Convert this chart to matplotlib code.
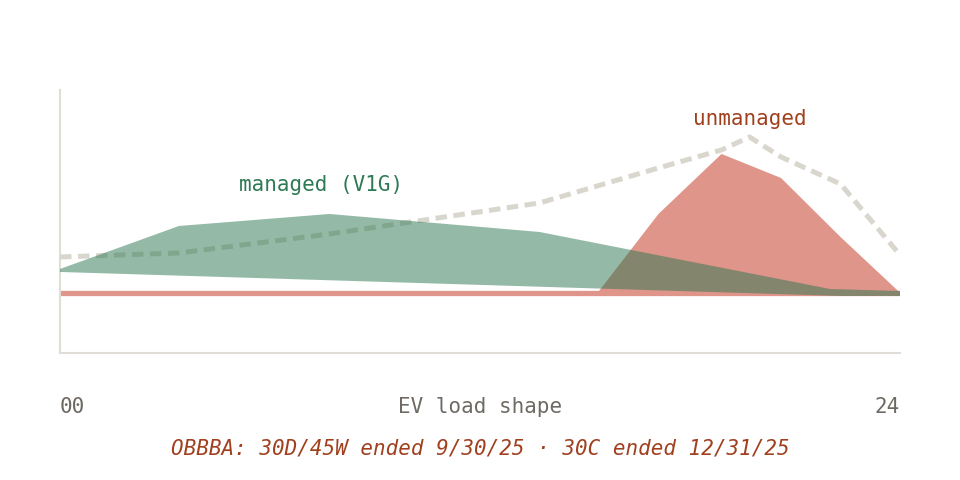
import matplotlib
matplotlib.use("Agg")
import matplotlib.pyplot as plt

# hours (0-24) and relative load, baseline = 0
baseline_hours = [0, 24]
baseline_vals = [0, 0]

managed_top_hours = [0, 3.4, 7.7, 13.7, 22.0, 24]
managed_top_vals = [0.24, 0.67, 0.79, 0.61, 0.04, 0.02]
managed_bot_hours = [24, 22.3, 0]
managed_bot_vals = [-0.03, -0.03, 0.21]

unmanaged_hours = [15.4, 17.1, 18.9, 20.6, 22.3, 24.1]
unmanaged_vals = [0.02, 0.79, 1.39, 1.15, 0.56, -0.03]

grid_hours = [0, 3.4, 7.7, 13.7, 17.1, 18.9, 19.7, 20.6, 22.3, 24]
grid_vals = [0.36, 0.40, 0.59, 0.90, 1.25, 1.43, 1.56, 1.36, 1.09, 0.38]

RED = "#df958a"
GREEN = "#2b7751"
DASH = "#d9d6cd"
SPINE = "#e0dcd6"
GREY_TXT = "#6e6a63"
MONO = "DejaVu Sans Mono"
FS = 15

fig = plt.figure(figsize=(9.6, 4.8), dpi=100)
ax = fig.add_axes([0.0625, 0.2646, 0.875, 0.548])

ax.plot(baseline_hours, baseline_vals, color=RED, lw=3.8, solid_capstyle="butt", zorder=1)
ax.fill(unmanaged_hours, unmanaged_vals, color=RED, lw=0, zorder=2)
ax.plot(grid_hours, grid_vals, color=DASH, lw=3.6, dashes=(2.3, 1.3), zorder=3)
ax.fill(managed_top_hours + managed_bot_hours, managed_top_vals + managed_bot_vals,
        color=GREEN, alpha=0.5, lw=0, zorder=4)

ax.set_xlim(0, 24)
ax.set_ylim(-0.6, 2.03)
for s in ["top", "right"]:
    ax.spines[s].set_visible(False)
for s in ["left", "bottom"]:
    ax.spines[s].set_color(SPINE)
    ax.spines[s].set_linewidth(1.5)
ax.set_xticks([])
ax.set_yticks([])

ax.text(7.46, 1.08, "managed (V1G)", color="#2e7a55", fontsize=FS,
        family=MONO, ha="center", va="center")
ax.text(19.71, 1.74, "unmanaged", color="#a0401f", fontsize=FS,
        family=MONO, ha="center", va="center")

fig.text(0.0625, 0.152, "00", color=GREY_TXT, fontsize=FS, family=MONO, ha="left", va="center")
fig.text(0.9375, 0.152, "24", color=GREY_TXT, fontsize=FS, family=MONO, ha="right", va="center")
fig.text(0.5, 0.152, "EV load shape", color=GREY_TXT, fontsize=FS, family=MONO,
         ha="center", va="center")
fig.text(0.5, 0.0646, "OBBBA: 30D/45W ended 9/30/25 \u00b7 30C ended 12/31/25",
         color="#a0401f", fontsize=FS, family=MONO, style="italic",
         ha="center", va="center")

fig.savefig("out.png", dpi=100)
